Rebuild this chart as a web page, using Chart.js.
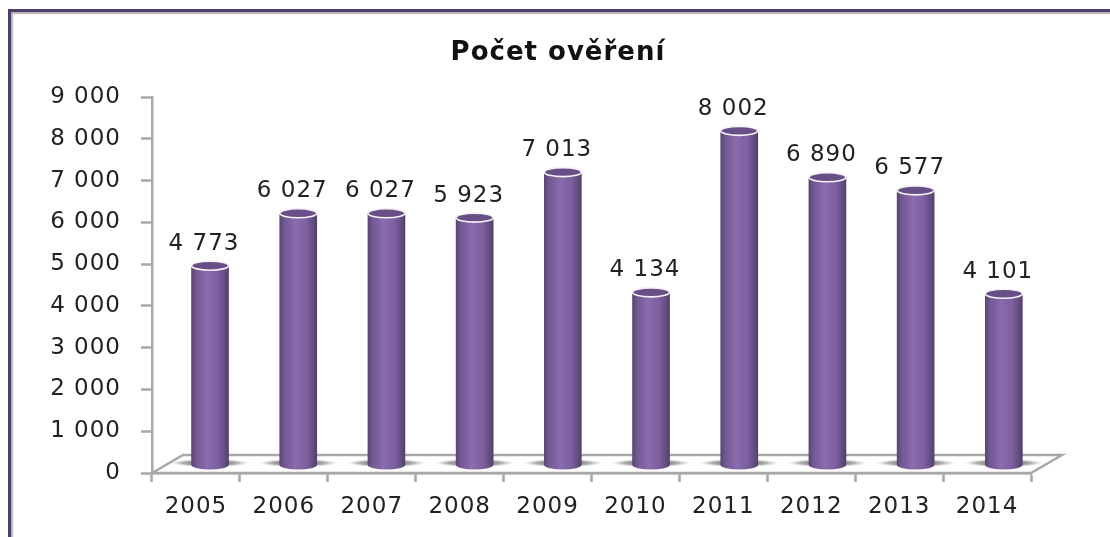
<!DOCTYPE html>
<html>
<head>
<meta charset="utf-8">
<script src="https://cdn.jsdelivr.net/npm/chart.js@4"></script>
<style>
  html, body { margin: 0; padding: 0; background: #fff; overflow: hidden; }
  #frame { position: absolute; left: 8px; top: 9px; width: 1110px; height: 540px;
    border-top: 3px solid #4e3f69; border-left: 3px solid #4e3f69;
    box-shadow: inset 2px 2px 1px #b5b5b5; }
  #wrap { position: absolute; left: 0; top: 0; width: 1110px; height: 537px; filter: blur(0.45px); }
</style>
</head>
<body>
<div id="frame"></div>
<div id="wrap"><canvas id="ctx"></canvas></div>
<script>
const years = ["2005", "2006", "2007", "2008", "2009", "2010", "2011", "2012", "2013", "2014"];
const counts = [4773, 6027, 6027, 5923, 7013, 4134, 8002, 6890, 6577, 4101];
const chartTitle = "Počet ověření";

const axisGray = "#a8a8a8";
const textColor = "#222";
const fontName = "'DejaVu Sans'";
const barWidth = 37;

function fmt(v) {
  return String(v).replace(/\B(?=(\d{3})+$)/g, " ");
}

function gradientAt(ctx, cx) {
  const g = ctx.createLinearGradient(cx - barWidth / 2, 0, cx + barWidth / 2, 0);
  g.addColorStop(0, "#5a4573");
  g.addColorStop(0.12, "#725893");
  g.addColorStop(0.42, "#8a6bad");
  g.addColorStop(0.72, "#7d60a0");
  g.addColorStop(0.94, "#5e4879");
  g.addColorStop(1, "#523e6b");
  return g;
}

function barFill(context) {
  const scale = context.chart.scales.xBars;
  if (!scale || context.dataIndex === undefined) return "#7f62a2";
  const cx = scale.getPixelForValue(context.dataIndex);
  if (!Number.isFinite(cx)) return "#7f62a2";
  return gradientAt(context.chart.ctx, cx);
}

// the reference text is stretched sideways, so open it up a little
const spacingPlugin = {
  id: "spacing",
  beforeDraw(chart) {
    chart.ctx.letterSpacing = "1px";
  }
};

// floor of the fake 3D plot, and the soft shadow each cylinder drops on it
const floorPlugin = {
  id: "floor",
  beforeDatasetsDraw(chart) {
    const ctx = chart.ctx;
    const a = chart.chartArea;
    const d = 31, h = 18;
    ctx.save();
    ctx.beginPath();
    ctx.moveTo(a.left, a.bottom);
    ctx.lineTo(a.left + d, a.bottom - h);
    ctx.lineTo(a.right + d, a.bottom - h);
    ctx.lineTo(a.right, a.bottom);
    ctx.closePath();
    ctx.fillStyle = "#fff";
    ctx.fill();
    ctx.strokeStyle = axisGray;
    ctx.lineWidth = 2.5;
    ctx.stroke();
    chart.getDatasetMeta(0).data.forEach(bar => {
      const cx = bar.x, cy = a.bottom - 10;
      ctx.save();
      ctx.translate(cx, cy);
      ctx.scale(1, 0.1);
      const g = ctx.createRadialGradient(0, 0, 12, 0, 0, 40);
      g.addColorStop(0, "rgba(110,110,110,0.95)");
      g.addColorStop(0.55, "rgba(140,140,140,0.7)");
      g.addColorStop(1, "rgba(200,200,200,0)");
      ctx.fillStyle = g;
      ctx.beginPath();
      ctx.arc(0, 0, 40, 0, Math.PI * 2);
      ctx.fill();
      ctx.restore();
    });
    ctx.restore();
  }
};

// round off the bars into cylinders and write the values above them
const cylinderPlugin = {
  id: "cylinder",
  afterDatasetsDraw(chart) {
    const ctx = chart.ctx;
    chart.getDatasetMeta(0).data.forEach((bar, i) => {
      const rx = barWidth / 2, ry = 4.5;
      ctx.save();
      // bottom cap
      ctx.beginPath();
      ctx.ellipse(bar.x, bar.base, rx, ry, 0, 0, Math.PI);
      ctx.fillStyle = gradientAt(ctx, bar.x);
      ctx.fill();
      // top cap
      ctx.beginPath();
      ctx.ellipse(bar.x, bar.y, rx, ry, 0, 0, Math.PI * 2);
      ctx.fillStyle = "#694f88";
      ctx.fill();
      ctx.lineWidth = 1.6;
      ctx.strokeStyle = "#f4f2f7";
      ctx.stroke();
      // value
      ctx.font = "23px " + fontName;
      ctx.fillStyle = textColor;
      ctx.textAlign = "center";
      ctx.textBaseline = "middle";
      ctx.fillText(fmt(counts[i]), bar.x - 6, bar.y - 22);
      ctx.restore();
    });
  }
};

new Chart(document.getElementById("ctx"), {
  type: "bar",
  plugins: [spacingPlugin, floorPlugin, cylinderPlugin],
  data: {
    labels: years,
    datasets: [{
      label: chartTitle,
      data: counts.map((v, i) => ({ x: i, y: v })),
      xAxisID: "xBars",
      yAxisID: "yBars",
      barThickness: barWidth,
      backgroundColor: barFill,
      borderWidth: 0
    }]
  },
  options: {
    responsive: true,
    maintainAspectRatio: false,
    animation: false,
    layout: { padding: { left: 6, right: 0, top: 0, bottom: 0 } },
    plugins: {
      legend: { display: false },
      tooltip: { enabled: false },
      title: {
        display: true,
        text: chartTitle,
        color: "#111",
        font: { family: fontName, size: 26, weight: "bold" },
        padding: { top: 38, bottom: 28 }
      }
    },
    scales: {
      x: {
        type: "category",
        offset: true,
        afterFit(s) { s.height = 64; },
        border: { display: true, color: axisGray, width: 2.5 },
        grid: { offset: true, drawOnChartArea: false, drawTicks: true, tickLength: 9, tickWidth: 2.5, tickColor: axisGray },
        ticks: { color: textColor, padding: 11, maxRotation: 0, font: { family: fontName, size: 23 } }
      },
      y: {
        type: "linear",
        min: 0,
        max: 9000,
        afterFit(s) { s.width = 146; },
        border: { display: true, color: axisGray, width: 2.5 },
        grid: { drawOnChartArea: false, drawTicks: true, tickLength: 11, tickWidth: 2.5, tickColor: axisGray },
        ticks: { stepSize: 1000, color: textColor, padding: 20, callback: v => fmt(v), font: { family: fontName, size: 23 } }
      },
      // empty strip that keeps the plot clear of the right edge
      yRight: {
        type: "linear",
        position: "right",
        afterFit(s) { s.width = 79; },
        border: { display: false },
        grid: { display: false },
        ticks: { display: false }
      },
      // same data scale, shifted by the depth of the 3D floor
      xBars: { type: "linear", display: false, offset: false, min: -0.658, max: 9.308 },
      yBars: { type: "linear", display: false, min: -192, max: 8808 }
    }
  }
});
</script>
</body>
</html>
